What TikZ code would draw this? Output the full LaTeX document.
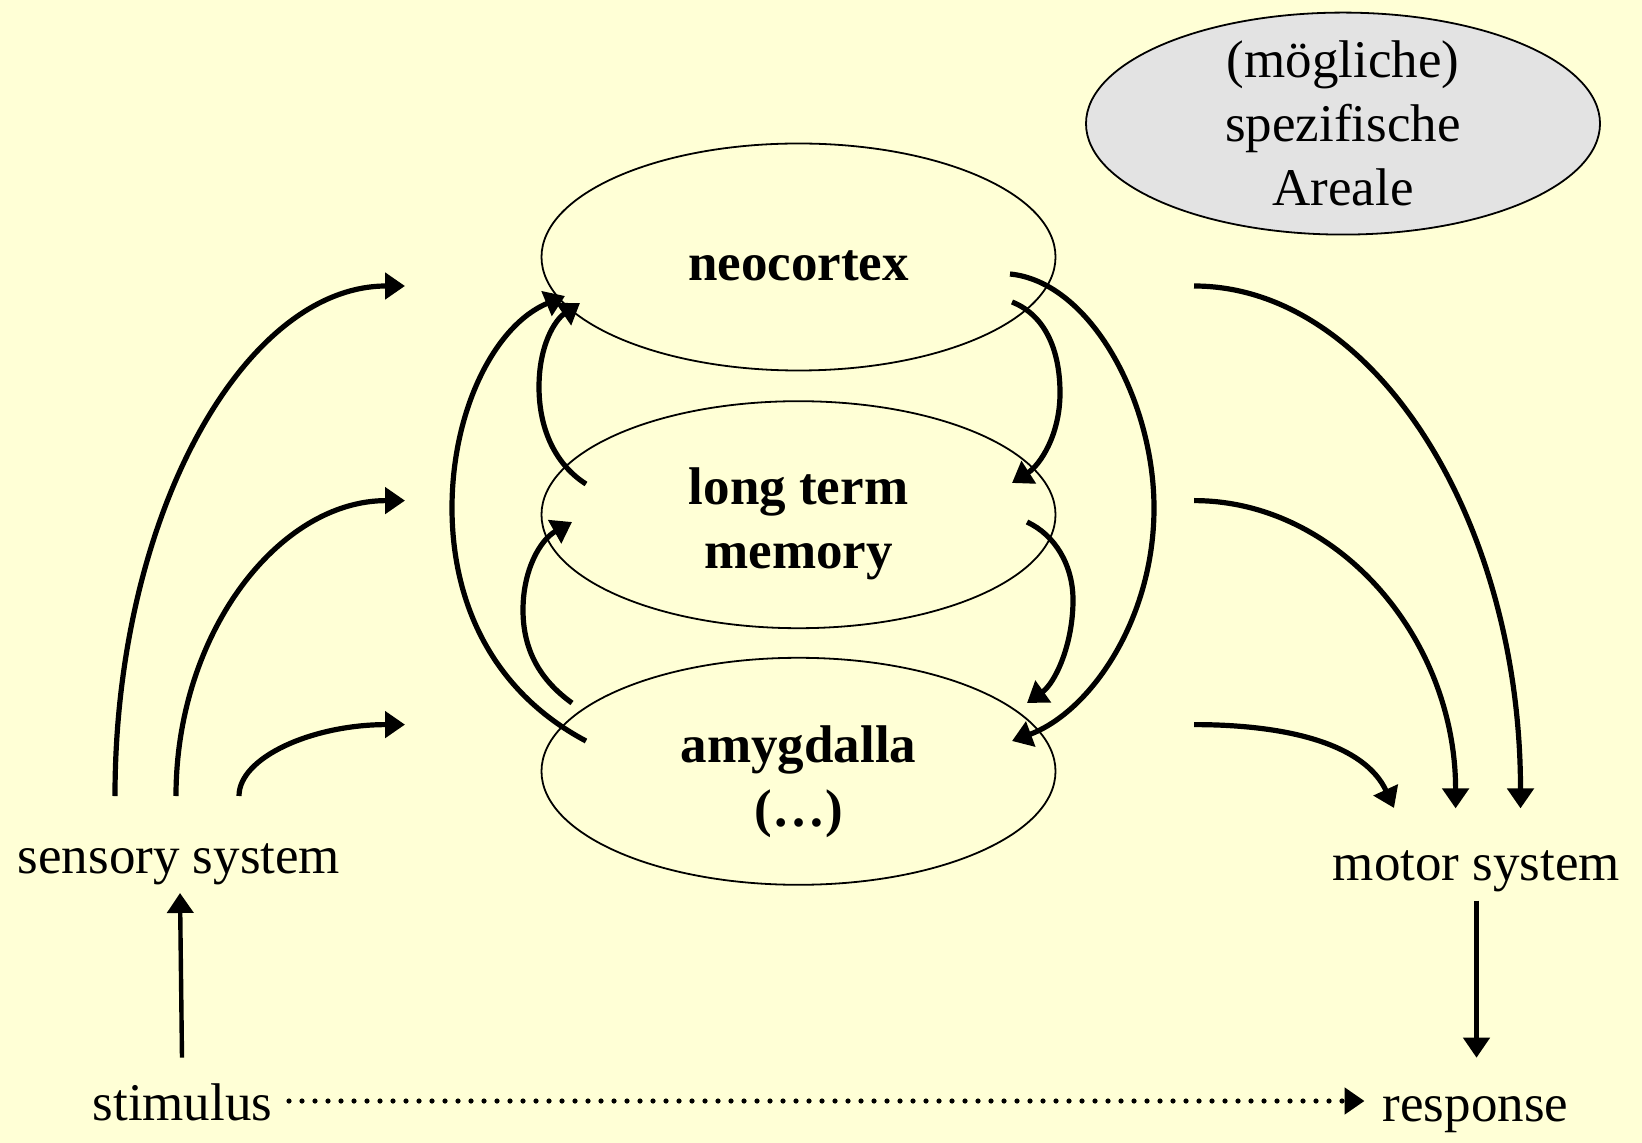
\documentclass[tikz,border=0pt]{standalone}
\usepackage{fontspec}
\setmainfont{Liberation Serif}
\usetikzlibrary{arrows.meta,shapes.geometric}
\definecolor{bgyellow}{RGB}{255,255,214}
\definecolor{areagray}{RGB}{227,227,227}
\begin{document}
\begin{tikzpicture}[x=0.5pt,y=-0.5pt,
  area/.style={draw,ellipse,line width=0.9pt,inner sep=0pt,outer sep=0pt,minimum width=257pt,minimum height=113.5pt},
  txt/.style={font=\fontsize{26.5}{32}\selectfont,inner sep=0pt,anchor=base,align=center},
  btxt/.style={txt,font=\fontsize{26.5}{32}\selectfont\bfseries},
  conn/.style={line width=2.6pt,-{Triangle[length=10pt,width=13pt]}},
  vconn/.style={line width=2.2pt,-{Triangle[length=10pt,width=13pt]}}]
\useasboundingbox[fill=bgyellow] (0,0) rectangle (1642,1143);

% ellipses
\node[area] (neo) at (798.5,257) {};
\node[area] (ltm) at (798.5,514.7) {};
\node[area] (amy) at (798.5,771.3) {};
\node[area,fill=areagray,minimum height=111pt] (spez) at (1343,123.6) {};

% texts (anchor base = baseline of last line)
\node[btxt] (neot) at (798.5,280.5) {neocortex};
\node[btxt] (ltmt) at (798.5,568.6) {long term\\memory};
\node[btxt] (amyt) at (798.5,826) {amygdalla\\(…)};
\node[txt] (spezt) at (1343,206) {(mögliche)\\spezifische\\Areale};
\node[txt] (sens) at (179,873) {sensory system};
\node[txt] (mot) at (1476.5,880) {motor system};
\node[txt] (stim) at (182.5,1120.5) {stimulus};
\node[txt] (resp) at (1475.5,1121.7) {response};

% coordinates
\coordinate (s1) at (115,796);  \coordinate (t1) at (405,286);
\coordinate (s2) at (176,796);  \coordinate (t2) at (405,500.6);
\coordinate (s3) at (239,796);  \coordinate (t3) at (405,724.6);
\coordinate (r1) at (1194,286);   \coordinate (m1) at (1520.5,808.4);
\coordinate (r2) at (1194,500.6); \coordinate (m2) at (1455.6,808.4);
\coordinate (r3) at (1194,724.6); \coordinate (m3) at (1394,808);
\coordinate (stimtop) at (182,1057.7); \coordinate (senbot) at (180,893);
\coordinate (motbot) at (1476.5,900.6); \coordinate (resptop) at (1476.5,1057.7);
\coordinate (dotl) at (289,1101); \coordinate (dotr) at (1364.5,1101);
\coordinate (a1) at (586,741);  \coordinate (a2) at (565,296);
\coordinate (b1) at (586,484);  \coordinate (b2) at (580,303);
\coordinate (c1) at (572,703);  \coordinate (c2) at (572,522);
\coordinate (d1) at (1010,274); \coordinate (d2) at (1012,741);
\coordinate (e1) at (1012,302); \coordinate (e2) at (1012,483);
\coordinate (f1) at (1027,522); \coordinate (f2) at (1027,703);

% sensory -> centre
\draw[conn] (s1) .. controls (115,514) and (245,286) .. (t1);
\draw[conn] (s2) .. controls (176,633) and (279,500.6) .. (t2);
\draw[conn] (s3) .. controls (239,757) and (313,724.6) .. (t3);

% centre -> motor
\draw[conn] (r1) .. controls (1374,286) and (1520.5,520) .. (m1);
\draw[conn] (r2) .. controls (1338,500.6) and (1455.6,638.5) .. (m2);
\draw[conn] (r3) .. controls (1290,724.6) and (1365,745) .. (m3);

% stimulus / response
\draw[vconn] (stimtop) -- (senbot);
\draw[vconn] (motbot) -- (resptop);
\draw[line width=2.6pt,line cap=round,dash pattern=on 0pt off 6.5pt,-{Triangle[length=10pt,width=13pt]}] (dotl) -- (dotr);

% inner left loops
\draw[conn] (a1) .. controls (490,690) and (452,600) .. (452,508) .. controls (452,410) and (495,325) .. (a2);
\draw[conn] (b1) .. controls (556,465) and (539,430) .. (539,387) .. controls (539,345) and (555,320) .. (b2);
\draw[conn] (c1) .. controls (540,680) and (523,650) .. (523,610) .. controls (523,570) and (540,540) .. (c2);

% inner right loops
\draw[conn] (d1) .. controls (1090,282) and (1154,400) .. (1154,508) .. controls (1154,620) and (1090,712) .. (d2);
\draw[conn] (e1) .. controls (1045,315) and (1060,350) .. (1060,393) .. controls (1060,435) and (1040,465) .. (e2);
\draw[conn] (f1) .. controls (1055,535) and (1073,565) .. (1073,600) .. controls (1073,645) and (1055,683) .. (f2);
\end{tikzpicture}
\end{document}
